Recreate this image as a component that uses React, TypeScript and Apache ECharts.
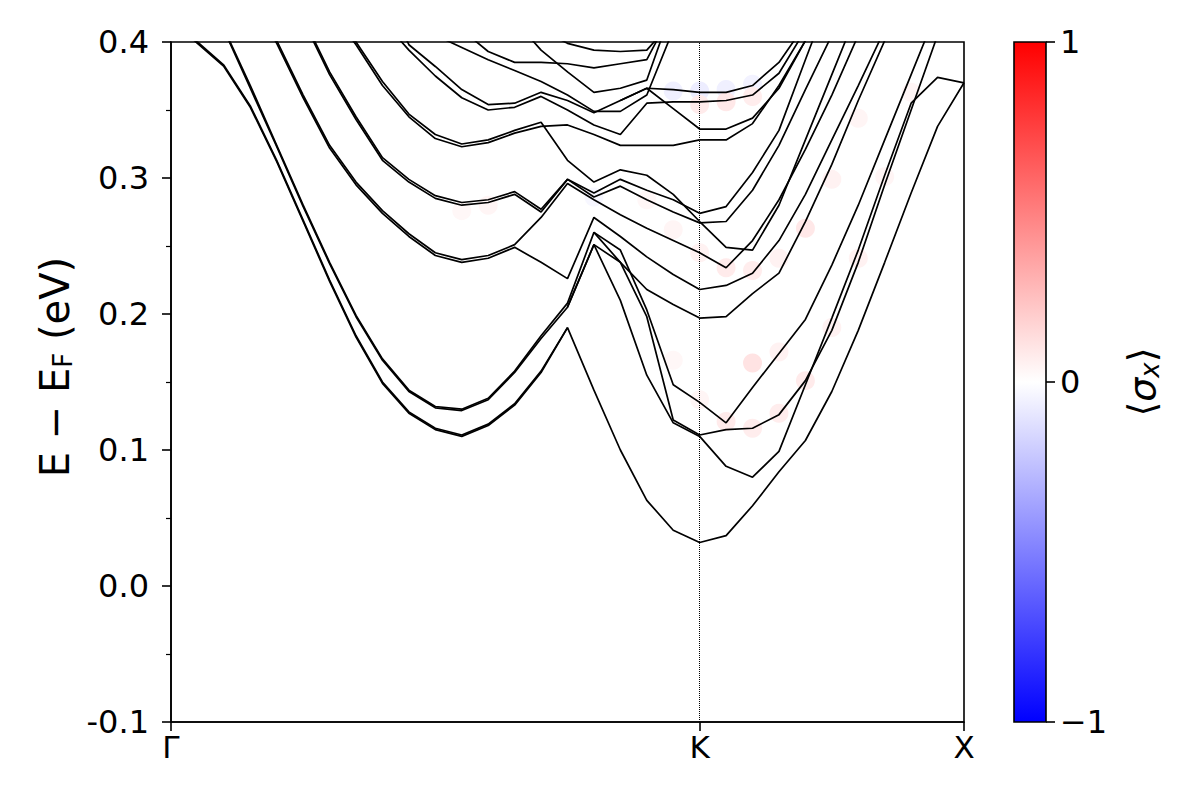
import React, { useEffect, useRef } from 'react';
import * as echarts from 'echarts';

// k-point index along the path Γ → K → X
const KPTS = [0,1,2,3,4,5,6,7,8,9,10,11,12,13,14,15,16,17,18,19,20,21,22,23,24,25,26,27,28,29,30];
const K_TICKS = [0, 20, 30];
const K_LABELS = ['Γ', 'K', 'X'];
const Y_MIN = -0.1;
const Y_MAX = 0.4;
const Y_STEP = 0.1;
const CB_TICKS = [1, 0, -1];
const CB_LABELS = ['1', '0', '−1'];

const n = null;
// band energies E - E_F (eV) at each k-point
const band01 = [0.416,0.399,0.382,0.352,0.312,0.268,0.224,0.183,0.149,0.127,0.115,0.110,0.118,0.133,0.157,0.190,0.144,0.100,0.063,0.041,0.032,0.037,0.059,0.084,0.107,0.143,0.188,0.238,0.289,0.338,0.370];
const band02 = [0.417,0.400,0.383,0.353,0.313,0.269,0.225,0.184,0.150,0.128,0.116,0.111,0.119,0.134,0.158,0.190,n,n,n,n,n,n,n,n,n,n,n,n,n,n,n];
const band03 = [n,n,0.409,0.366,0.323,0.279,0.237,0.198,0.166,0.143,0.131,0.129,0.137,0.157,0.182,0.205,0.251,0.238,0.198,0.122,0.111,0.115,0.116,0.126,0.151,0.188,0.238,0.295,0.350,0.405,n];
const band04 = [n,n,0.410,0.368,0.324,0.280,0.238,0.199,0.167,0.144,0.132,0.130,0.138,0.158,0.184,0.208,0.260,0.247,0.203,0.148,0.135,0.120,0.146,0.171,0.196,0.236,0.280,0.328,0.376,0.424,n];
const band05 = [n,n,n,n,n,n,n,n,n,n,n,n,n,n,n,0.205,0.251,0.210,0.155,0.120,0.110,0.088,0.080,0.099,0.148,0.197,0.247,0.302,0.355,0.374,0.370];
const band06 = [n,n,n,0.431,0.399,0.359,0.322,0.295,0.274,0.257,0.243,0.238,0.241,0.249,0.238,0.226,0.271,0.257,0.242,0.229,0.218,0.221,0.230,0.254,0.288,0.328,0.368,0.409,n,n,n];
const band07 = [n,n,n,0.433,0.401,0.361,0.324,0.297,0.276,0.259,0.245,0.240,0.243,0.251,0.271,0.296,0.284,0.273,0.263,0.254,0.245,0.234,0.254,0.284,0.321,0.361,0.405,n,n,n,n];
const band08 = [n,n,n,n,n,0.416,0.376,0.343,0.313,0.297,0.285,0.280,0.282,0.288,0.275,0.299,0.289,0.299,0.291,0.284,0.274,0.279,0.304,0.335,0.387,0.438,n,n,n,n,n];
const band09 = [n,n,n,n,n,0.418,0.378,0.345,0.315,0.299,0.287,0.282,0.284,0.290,0.277,0.299,0.286,0.294,0.284,0.275,0.267,0.268,0.291,0.324,0.365,0.405,n,n,n,n,n];
const band10 = [n,n,n,n,n,n,n,n,n,n,n,n,n,n,n,n,0.260,0.238,0.218,0.207,0.197,0.198,0.215,0.230,0.268,0.310,0.357,0.401,n,n,n];
const band11 = [n,n,n,n,n,n,0.425,0.400,0.371,0.347,0.332,0.325,0.328,0.335,0.341,0.313,0.297,0.306,0.302,0.288,0.268,0.249,0.247,0.280,0.328,0.376,0.424,n,n,n,n];
const band12 = [n,n,n,n,n,n,0.424,0.398,0.368,0.345,0.329,0.323,0.326,0.333,0.338,0.339,0.332,0.324,0.324,0.324,0.328,0.328,0.340,0.368,0.401,n,n,n,n,n,n];
const band13 = [n,n,n,n,n,n,n,n,0.416,0.394,0.375,0.359,0.350,0.352,0.360,0.350,0.339,0.332,0.355,0.356,0.356,0.357,0.361,0.377,0.409,n,n,n,n,n,n];
const band14 = [n,n,n,n,n,n,n,n,0.438,0.398,0.382,0.365,0.354,0.355,0.363,0.357,0.348,0.357,0.366,0.365,0.363,0.363,0.368,0.385,0.413,n,n,n,n,n,n];
const band15 = [n,n,n,n,n,n,n,n,n,n,n,n,n,n,n,n,n,0.357,0.366,0.351,0.336,0.336,0.344,0.366,0.401,n,n,n,n,n,n];
const band16 = [n,n,n,n,n,n,n,n,n,n,0.405,0.396,0.387,0.379,0.371,0.361,0.349,0.349,0.361,0.409,n,n,n,n,n,n,n,n,n,n,n];
const band17 = [n,n,n,n,n,n,n,n,n,n,n,n,n,0.416,0.394,0.378,0.363,0.366,0.372,0.427,n,n,n,n,n,n,n,n,n,n,n];
const band18 = [n,n,n,n,n,n,n,n,n,n,n,0.409,0.393,0.385,0.385,0.384,0.381,0.384,0.387,0.424,n,n,n,n,n,n,n,n,n,n,n];
const band19 = [n,n,n,n,n,n,n,n,n,n,n,n,n,n,0.409,0.399,0.394,0.393,0.394,0.416,n,n,n,n,n,n,n,n,n,n,n];

const BANDS = [band01, band02, band03, band04, band05, band06, band07, band08, band09, band10,
  band11, band12, band13, band14, band15, band16, band17, band18, band19];

// spin expectation <σx> markers: [k index, energy, σx]
const SPIN_DOTS = [
  [19, 0.364, -0.06], [20, 0.364, -0.07], [21, 0.365, -0.06], [22, 0.369, -0.05],
  [20, 0.354, 0.08], [21, 0.356, 0.09], [22, 0.360, 0.07],
  [18, 0.284, 0.03], [19, 0.262, 0.04], [20, 0.245, 0.05], [21, 0.234, 0.08], [22, 0.232, 0.07],
  [23, 0.241, 0.05], [24, 0.263, 0.09],
  [19, 0.166, 0.03], [20, 0.137, 0.04], [21, 0.121, 0.08], [22, 0.116, 0.07], [23, 0.127, 0.07],
  [24, 0.151, 0.08], [22, 0.164, 0.11], [23, 0.172, 0.05],
  [25, 0.190, 0.05], [26, 0.241, 0.05], [26, 0.344, 0.04], [25, 0.299, 0.05], [27, 0.301, 0.04],
  [28, 0.363, 0.04], [11, 0.276, 0.03], [12, 0.280, 0.04], [16, 0.286, -0.03],
];

const FONT = 'DejaVu Sans';
const GRID = { left: 171, top: 42, width: 793, height: 680 };

export default function App() {
  const ref = useRef<HTMLDivElement>(null);
  useEffect(() => {
    const chart = echarts.init(ref.current as HTMLDivElement, null, { renderer: 'svg' });
    const bandSeries = BANDS.map((b, bi) => ({
      type: 'line',
      name: 'band' + bi,
      data: KPTS.map((k, j) => [k, b[j]]),
      showSymbol: false,
      symbol: 'none',
      connectNulls: false,
      clip: true,
      silent: true,
      z: 3,
      lineStyle: { color: '#000', width: 1.7 },
    }));
    const cbTop = GRID.top;
    const cbH = GRID.height;
    const cbX = 1014;
    const cbW = 32;
    const cbGraphics: any[] = [
      {
        type: 'rect',
        shape: { x: cbX, y: cbTop, width: cbW, height: cbH },
        style: {
          fill: {
            type: 'linear', x: 0, y: 0, x2: 0, y2: 1,
            colorStops: [
              { offset: 0, color: '#ff0000' },
              { offset: 0.5, color: '#ffffff' },
              { offset: 1, color: '#0000ff' },
            ],
          },
          stroke: '#000',
          lineWidth: 1.6,
        },
      },
    ];
    CB_TICKS.forEach((v, i) => {
      const y = cbTop + ((1 - v) / 2) * cbH;
      cbGraphics.push({
        type: 'line',
        shape: { x1: cbX + cbW, y1: y, x2: cbX + cbW + 9, y2: y },
        style: { stroke: '#000', lineWidth: 1.6 },
      });
      cbGraphics.push({
        type: 'text',
        x: cbX + cbW + 14,
        y,
        style: {
          text: CB_LABELS[i],
          fontSize: 32,
          fontFamily: FONT,
          fill: '#000',
          textAlign: 'left',
          textVerticalAlign: 'middle',
        },
      });
    });
    cbGraphics.push({
      type: 'text',
      x: 1142,
      y: cbTop + cbH / 2,
      rotation: Math.PI / 2,
      style: {
        text: '⟨{it|σ}{sub|x}⟩',
        fontSize: 38,
        fontFamily: FONT,
        fill: '#000',
        textAlign: 'center',
        textVerticalAlign: 'middle',
        rich: {
          it: { fontSize: 38, fontStyle: 'italic', fontFamily: FONT },
          sub: { fontSize: 26, fontStyle: 'italic', fontFamily: FONT, verticalAlign: 'bottom', padding: [16, 0, 0, 0] },
        },
      },
    });
    cbGraphics.push({
      type: 'text',
      x: 55,
      y: 367,
      rotation: Math.PI / 2,
      style: {
        text: 'E − E{sub|F} (eV)',
        fontSize: 40,
        fontFamily: FONT,
        fill: '#000',
        textAlign: 'center',
        textVerticalAlign: 'middle',
        rich: {
          sub: { fontSize: 26, fontFamily: FONT, verticalAlign: 'bottom', padding: [16, 0, 0, 0] },
        },
      },
    });

    const option: any = {
      animation: false,
      backgroundColor: '#ffffff',
      grid: { ...GRID, show: true, borderColor: '#000', borderWidth: 1.6, backgroundColor: 'transparent' },
      xAxis: {
        type: 'value',
        min: 0,
        max: 30,
        splitLine: { show: false },
        axisLine: { show: true, onZero: false, lineStyle: { color: '#000', width: 1.6 } },
        axisTick: { show: true, customValues: K_TICKS, length: 9, lineStyle: { color: '#000', width: 1.6 } },
        axisLabel: {
          customValues: K_TICKS,
          formatter: (v: number) => K_LABELS[K_TICKS.indexOf(Math.round(v))] ?? '',
          fontSize: 31,
          fontFamily: FONT,
          color: '#000',
          margin: 9,
        },
      },
      yAxis: {
        type: 'value',
        min: Y_MIN,
        max: Y_MAX,
        interval: Y_STEP,
        splitLine: { show: false },
        axisLine: { show: true, onZero: false, lineStyle: { color: '#000', width: 1.6 } },
        axisTick: { show: true, length: 9, lineStyle: { color: '#000', width: 1.6 } },
        minorTick: { show: true, splitNumber: 2, length: 5, lineStyle: { color: '#000', width: 1.2 } },
        axisLabel: {
          formatter: (v: number) => (Math.abs(v) < 1e-9 ? '0.0' : v.toFixed(1)),
          fontSize: 32,
          fontFamily: FONT,
          color: '#000',
          margin: 22,
        },
      },
      visualMap: {
        show: false,
        type: 'continuous',
        min: -1,
        max: 1,
        dimension: 2,
        seriesIndex: 0,
        inRange: { color: ['#0000ff', '#ffffff', '#ff0000'] },
      },
      graphic: cbGraphics,
      series: [
        {
          type: 'scatter',
          data: SPIN_DOTS,
          symbolSize: 19,
          silent: true,
          z: 1,
          itemStyle: { opacity: 1 },
        },
        {
          type: 'line',
          data: [],
          silent: true,
          z: 2,
          markLine: {
            silent: true,
            symbol: ['none', 'none'],
            label: { show: false },
            lineStyle: { type: 'dotted', color: '#000', width: 1 },
            data: [{ xAxis: K_TICKS[1] }],
          },
        },
        ...bandSeries,
      ],
    };
    chart.setOption(option);
    return () => chart.dispose();
  }, []);
  return (
    <div
      ref={ref}
      style={{ position: 'fixed', left: 0, top: 0, width: 1200, height: 800, background: '#fff' }}
    />
  );
}
